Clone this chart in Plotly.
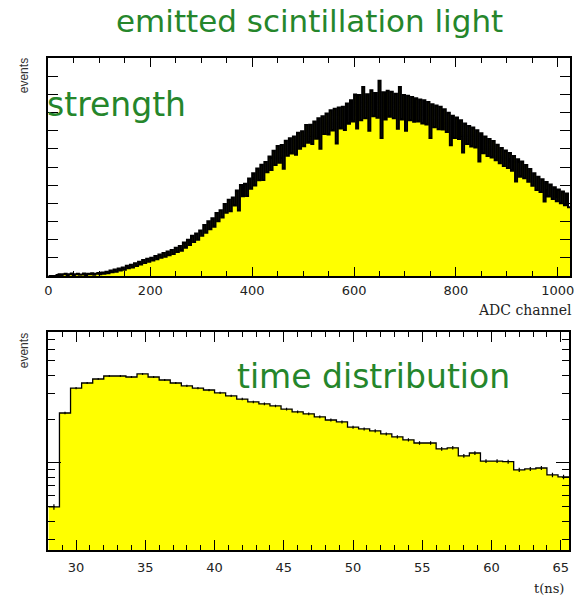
import numpy as np
import plotly.graph_objects as go

# ---------------- data ----------------
# ADC spectrum: 256 bins of 4 channels each, covering channels 0..1024
adc_bin_width = 4
adc_counts = [
    0, 0, 0, 0, 5, 10, 4, 9,
    12, 5, 10, 14, 6, 9, 13, 7,
    8, 14, 6, 12, 9, 15, 7, 13,
    16, 9, 19, 12, 24, 15, 30, 20,
    36, 24, 41, 30, 47, 35, 56, 42,
    62, 47, 70, 55, 79, 63, 88, 71,
    95, 78, 101, 86, 110, 92, 118, 101,
    127, 106, 135, 114, 143, 121, 155, 132,
    165, 139, 184, 155, 199, 170, 222, 187,
    234, 199, 250, 222, 281, 238, 302, 258,
    318, 271, 347, 301, 362, 322, 397, 348,
    420, 356, 432, 388, 471, 360, 501, 439,
    508, 441, 537, 480, 566, 498, 592, 527,
    612, 528, 628, 571, 658, 584, 690, 611,
    715, 623, 721, 590, 744, 662, 758, 675,
    768, 668, 789, 701, 797, 714, 831, 733,
    832, 727, 851, 755, 868, 700, 879, 781,
    895, 779, 912, 801, 921, 730, 928, 812,
    931, 803, 949, 838, 968, 850, 999, 812,
    996, 858, 1040, 869, 1001, 800, 1022, 880,
    1008, 871, 1075, 760, 1011, 862, 1020, 876,
    1014, 868, 1003, 810, 1040, 861, 997, 800,
    992, 858, 985, 849, 979, 851, 972, 839,
    967, 834, 958, 760, 945, 819, 939, 808,
    931, 806, 918, 793, 898, 720, 882, 760,
    872, 754, 858, 680, 840, 727, 826, 713,
    818, 707, 802, 630, 786, 676, 768, 661,
    754, 652, 743, 637, 722, 621, 704, 605,
    691, 594, 677, 580, 660, 520, 643, 547,
    630, 538, 611, 519, 589, 497, 566, 474,
    546, 463, 532, 410, 518, 438, 504, 424,
    488, 412, 476, 400, 465, 390, 454, 378,
]

# arrival time spectrum: 0.8 ns bins starting at 28 ns
t_start = 28.0
t_bin_width = 0.8
t_counts = [
    500, 2200, 3260, 3530, 3760, 3940, 3940, 3880,
    4070, 3880, 3700, 3530, 3370, 3260, 3160, 3020,
    2880, 2740, 2620, 2540, 2460, 2340, 2240, 2170,
    2070, 1970, 1910, 1760, 1710, 1660, 1580, 1510,
    1440, 1370, 1370, 1250, 1270, 1120, 1170, 1030,
    1030, 1020, 896, 910, 924, 828, 802,
]

# log-axis tick marks (no labels)
t_major_ticks = [1000]
t_minor_ticks = [300, 400, 500, 600, 700, 800, 900,
                 2000, 3000, 4000, 5000, 6000, 7000]

# ---------------- styling ----------------
W, H = 579, 595
GREEN = "#25862b"
YELLOW = "#ffff00"
TICK_FONT = dict(family="DejaVu Sans", size=13, color="#222222")


def px_x(p):
    return p / W


def px_y(p):
    return 1 - p / H


def step_xy(lo, width, counts):
    n = len(counts)
    edges = lo + width * np.arange(n + 1)
    return edges, list(counts) + [counts[-1]], edges[:-1] + width / 2


fig = go.Figure()

# upper panel: pulse height spectrum
ax, ay, _ = step_xy(0, adc_bin_width, adc_counts)
fig.add_trace(go.Scatter(
    x=ax, y=ay, mode="lines", line=dict(color="black", width=2, shape="hv"),
    fill="tozeroy", fillcolor=YELLOW, xaxis="x", yaxis="y", hoverinfo="skip",
))

# lower panel: time distribution with statistical errors
tx, ty, tc = step_xy(t_start, t_bin_width, t_counts)
fig.add_trace(go.Scatter(
    x=tx, y=ty, mode="lines", line=dict(color="black", width=1.3, shape="hv"),
    fill="tozeroy", fillcolor=YELLOW, xaxis="x2", yaxis="y2", hoverinfo="skip",
))
fig.add_trace(go.Scatter(
    x=tc, y=t_counts, mode="markers", marker=dict(size=0.1, color="black"),
    error_y=dict(type="data", array=np.sqrt(np.array(t_counts, dtype=float)),
                 color="black", thickness=1.2, width=0),
    xaxis="x2", yaxis="y2", hoverinfo="skip",
))

frame = dict(showline=True, linecolor="black", linewidth=1.5, mirror="allticks",
             ticks="inside", tickcolor="black", tickwidth=1, showgrid=False,
             zeroline=False, layer="above traces")

fig.update_layout(
    width=W, height=H,
    margin=dict(l=0, r=0, t=0, b=0),
    paper_bgcolor="white", plot_bgcolor="white",
    showlegend=False,
    xaxis=dict(frame, domain=[px_x(45), px_x(574)], range=[0, 1024], anchor="y",
               tickmode="linear", tick0=0, dtick=200, ticklen=9,
               minor=dict(dtick=50, ticklen=5, ticks="inside", tickcolor="black"),
               tickfont=TICK_FONT, ticklabelstandoff=2, ticklabeloverflow="allow"),
    yaxis=dict(frame, domain=[px_y(276), px_y(58)], range=[0, 1200], anchor="x",
               tickmode="linear", tick0=0, dtick=100, ticklen=10,
               showticklabels=False),
    xaxis2=dict(frame, domain=[px_x(45), px_x(573)], range=[28, 65.6], anchor="y2",
                tickmode="linear", tick0=0, dtick=5, ticklen=10,
                minor=dict(dtick=1, ticklen=5, ticks="inside", tickcolor="black"),
                tickfont=TICK_FONT, ticklabelstandoff=5, ticklabeloverflow="allow"),
    yaxis2=dict(frame, type="log", domain=[px_y(550), px_y(332)],
                range=[2.404, 3.897], anchor="x2",
                tickmode="array", tickvals=t_major_ticks, ticklen=13,
                minor=dict(tickmode="array", tickvals=t_minor_ticks, ticklen=7,
                           ticks="inside", tickcolor="black"),
                showticklabels=False),
)

annotations = [
    dict(text="emitted scintillation light", x=px_x(310), y=px_y(21),
         xanchor="center", yanchor="middle",
         font=dict(family="DejaVu Sans", size=31, color=GREEN)),
    dict(text="strength", x=px_x(42), y=px_y(104), xanchor="left", yanchor="middle",
         font=dict(family="DejaVu Sans", size=33, color=GREEN)),
    dict(text="time distribution", x=px_x(234), y=px_y(376), xanchor="left",
         yanchor="middle", font=dict(family="DejaVu Sans", size=33, color=GREEN)),
    dict(text="events", x=px_x(20), y=px_y(56), xanchor="center", yanchor="top",
         textangle=-90, font=dict(family="Liberation Sans", size=12, color="#333333")),
    dict(text="events", x=px_x(20), y=px_y(331), xanchor="center", yanchor="top",
         textangle=-90, font=dict(family="Liberation Sans", size=12, color="#333333")),
    dict(text="ADC channel", x=px_x(578), y=px_y(310), xanchor="right",
         yanchor="middle", font=dict(family="DejaVu Serif", size=14, color="#222222")),
    dict(text="t(ns)", x=px_x(570), y=px_y(588), xanchor="right", yanchor="middle",
         font=dict(family="DejaVu Serif", size=13, color="#222222")),
]
for a in annotations:
    a.update(xref="paper", yref="paper", showarrow=False)
fig.update_layout(annotations=annotations)

fig.write_html("out.html")
